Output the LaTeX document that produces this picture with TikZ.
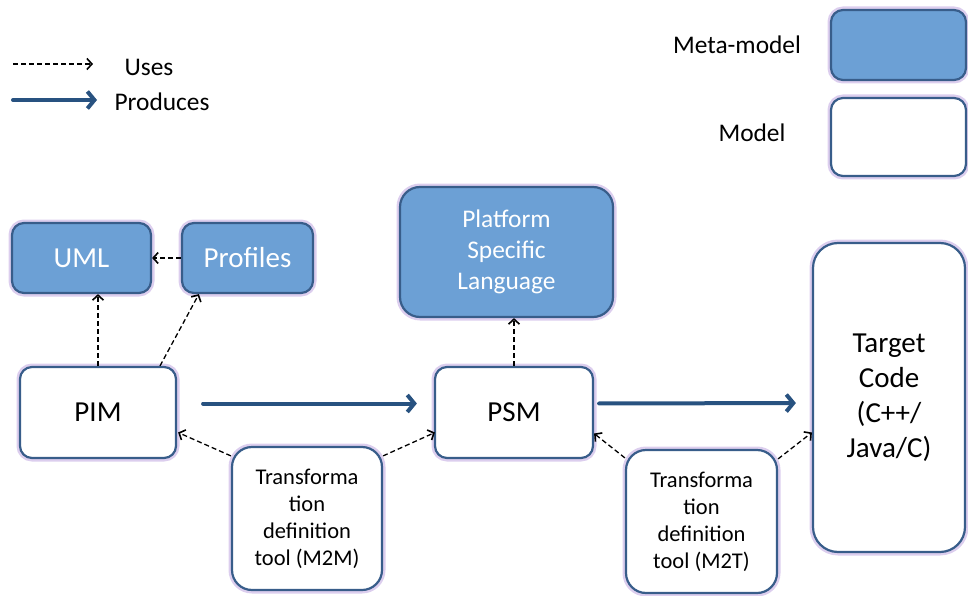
\documentclass[tikz,border=0pt]{standalone}
\usepackage{fontspec}
\setmainfont{Carlito}
\usetikzlibrary{arrows.meta,calc}
\definecolor{edgeblue}{RGB}{56,93,138}
\definecolor{metafill}{RGB}{108,160,213}
\definecolor{prodblue}{RGB}{40,82,128}
\definecolor{glow}{RGB}{220,206,238}
\tikzset{
  box/.style={draw=edgeblue,line width=2.2pt,rounded corners=12pt,
    preaction={draw=glow,line width=7pt},align=center},
  metabox/.style={box,fill=metafill,text=white},
  modelbox/.style={box,fill=white,text=black},
  big/.style={font=\fontsize{29}{35}\selectfont},
  mid/.style={font=\fontsize{25.4}{31}\selectfont},
  small/.style={font=\fontsize{22.5}{27}\selectfont},
  uses/.style={dash pattern=on 5pt off 3pt,line width=1.3pt,
    -{Straight Barb[length=5pt,width=11pt,line width=1.6pt]}},
  produces/.style={draw=prodblue,line width=4pt,line cap=round,
    -{Straight Barb[length=7pt,width=17pt,line width=4pt]}}
}
\begin{document}
\begin{tikzpicture}[x=1pt,y=-1pt]
  \useasboundingbox (0,0) rectangle (968,596);
  % legend
  \coordinate (u1) at (13,64);
  \coordinate (u2) at (93,64);
  \coordinate (p1) at (13,100);
  \coordinate (p2) at (97,100);
  \draw[uses] (u1) -- (u2);
  \draw[produces] (p1) -- (p2);
  \node[mid,anchor=west] (usestxt) at (121,67) {Uses};
  \node[mid,anchor=west] (prodtxt) at (111,102) {Produces};
  \node[mid] (metatxt) at (737,45) {Meta-model};
  \node[mid] (modeltxt) at (752,133) {Model};
  \node[metabox,minimum width=135pt,minimum height=70pt] (metakey) at (898.5,45) {};
  \node[modelbox,minimum width=135pt,minimum height=78pt] (modelkey) at (898.5,137) {};
  % meta-models
  \node[metabox,big,minimum width=139pt,minimum height=70pt] (uml) at (81.5,258) {UML};
  \node[metabox,big,minimum width=131pt,minimum height=70pt] (prof) at (247.5,258) {Profiles};
  \node[metabox,mid,minimum width=213pt,minimum height=130pt,rounded corners=20pt] (psl) at (506.5,252) {Platform\\Specific\\Language};
  % models
  \node[modelbox,big,minimum width=156pt,minimum height=91pt] (pim) at (98,412.5) {PIM};
  \node[modelbox,big,minimum width=158pt,minimum height=91pt] (psm) at (514,412.5) {PSM};
  \node[modelbox,big,minimum width=152pt,minimum height=309pt,rounded corners=25pt] (tgt) at (889,397.5) {Target\\Code\\(C++/\\Java/C)};
  \node[modelbox,small,minimum width=150pt,minimum height=143pt,rounded corners=20pt] (m2m) at (307,518.5) {Transforma\\tion\\definition\\tool (M2M)};
  \node[modelbox,small,minimum width=151pt,minimum height=143pt,rounded corners=20pt] (m2t) at (701.5,521.5) {Transforma\\tion\\definition\\tool (M2T)};
  % uses
  \draw[uses] (prof.west) -- (uml.east);
  \draw[uses] (pim.north) -- (pim.north |- uml.south);
  \draw[uses] ($(pim.north)+(62,0)$) -- ($(prof.south west)+(18,0)$);
  \draw[uses] (psm.north) -- (psm.north |- psl.south);
  \draw[uses] ($(m2m.north west)+(0,10)$) -- ($(pim.east)+(1,20)$);
  \draw[uses] ($(m2m.north east)+(0,10)$) -- ($(psm.west)+(1,20)$);
  \draw[uses] ($(m2t.north west)+(0,9)$) -- ($(psm.east)+(0,21)$);
  \draw[uses] ($(m2t.north east)+(0,10)$) -- ($(tgt.west)+(0,35)$);
  % produces
  \draw[produces,shorten <=26pt,shorten >=17pt] ($(pim.east)+(0,-9)$) -- ($(psm.west)+(0,-9)$);
  \draw[produces,shorten <=5pt,shorten >=16pt] ($(psm.east)+(0,-9)$) -- ($(tgt.west)+(0,5.5)$);
\end{tikzpicture}
\end{document}
